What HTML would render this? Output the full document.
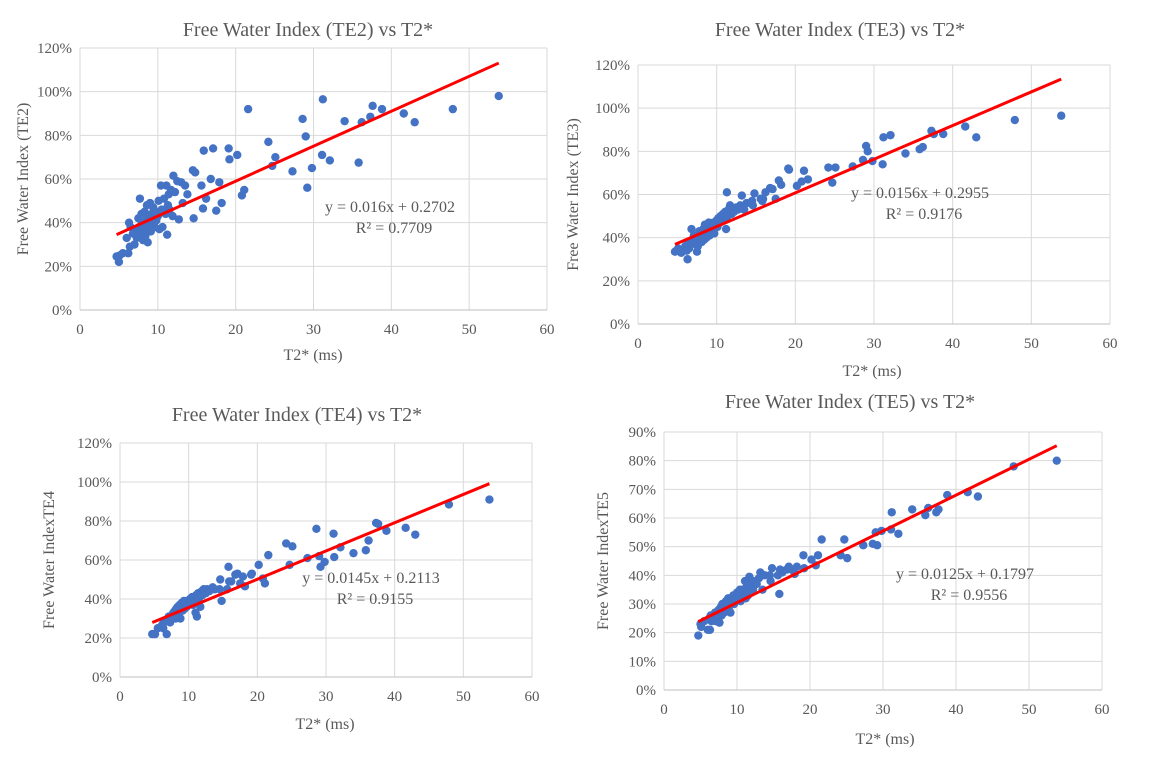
<!DOCTYPE html>
<html><head><meta charset="utf-8"><style>
body{margin:0;background:#fff;width:1158px;height:768px;overflow:hidden;font-family:"Liberation Serif",serif}
svg{position:absolute;left:0;top:0}
</style></head><body>
<svg id="s" width="1158" height="768"></svg>
<script>
const xOut=[53.8,47.9,43,41.6,38.8,37.6,37.3,36.2,35.8,34,32.1,31.2,31.1,29.8,29.2,29,28.6,27.3,25.1,24.7,24.2,21.6,21.1,20.8,20.2,19.2,19.1,18.2,17.9,17.5,17.1,16.8,16.2,15.9,15.8,15.6,14.8,14.6,14.5];
const xClu=[4.7,5.0,5.1,5.5,6.0,6.2,6.3,6.4,6.5,6.8,7.0,7.1,7.3,7.5,7.6,7.7,7.8,7.9,8.0,8.1,8.2,8.3,8.4,8.5,8.6,8.7,8.8,8.9,9.0,9.1,9.2,9.3,9.4,9.5,9.6,9.7,9.8,10.0,10.1,10.2,10.4,10.5,10.6,10.8,11.0,11.1,11.2,11.3,11.4,11.5,11.7,11.9,12.0,12.2,12.5,12.7,13.0,13.2,13.5,13.8];
const te2Out=[98,92,86,90,92,93.5,88.5,86,67.5,86.5,68.5,96.5,71,65,56,79.5,87.5,63.5,70,66,77,92,55,52.5,71,69,74,49,58.5,45.5,74,60,51,73,46.5,57,63,42,64];
const te2Clu=[24.5,22,25,26,33,26,40,29,38,35,30,36,33,42,38,51,35,44,40,32,37,45,34,41,48,31,43,39,49,36,44,40,47,42,38,45,41,43,50,37,57,46,38,51,44,57,34.5,48,53,46,55,43,61.5,54,59,41.5,58.5,49,57,53];
const te3Out=[96.5,94.5,86.5,91.5,88,88,89.5,82,81,79,87.5,86.5,74,75.5,80,82.5,76,73,72.5,65.5,72.5,67,71,66,64,71.5,72,64.5,66.5,58,62.5,63,61,58,57,58,60.5,55,57];
const te3Clu=[33.5,34,35,33,36,34,30,38,35,44,39,41,37,33.5,36,40,43,39,42,38,41,44,39,46,42,40,45,43,47,41,44,46,43,45,47,42,46,48,45,49,47,50,48,51,49,52,44,61,50,53,55,51,53,52,54,53,55,59.5,53,56];
const te4Out=[91,88.5,73,76.5,75,78.5,79,70,65,63.5,66.5,61.5,73.5,59,56.5,62,76,61,67,57.5,68.5,62.5,48,50.5,57.5,53,52.5,46.5,51.5,48,53,52.5,49,49,56.5,45,39,50,45];
const te4Clu=[22,22,22,25,26,27,25,28,29,22,29,31,28,30,32,30,33,31,34,30,35,33,36,31,34,37,30,35,38,34,36,39,35,37,38,36,39,37,38,40,39,41,37,40,33,42,31,41,43,40,36,44,42,45,43,45,44,45,46,45];
const te5Out=[80,78,67.5,69,68,63,62,63.5,61,63,54.5,62,56,55.5,50.5,55,51,50.5,46,52.5,47,52.5,47,43.5,45.5,42.5,47,43,40.5,42,43,42,41,42,33.5,40,42.5,38,40];
const te5Clu=[19,23,22,24,21,25,21,26,24,25,27,24,26,28,23.5,27,29,26,30,28,27,30,29,31,28,30,32,29,31,27,30,32,31,33,30,32,31,34,32,33,35,31,33,35,34,38,32,36,35,33,39.5,36,37,35,38,37,39,41,35,40];
const slopes=[0.016,0.0156,0.0145,0.0125];
const intercepts=[0.2702,0.2955,0.2113,0.1797];
const r2s=["0.7709","0.9176","0.9155","0.9556"];
const yMaxes=[120,120,120,90];
const yStep=[20,20,20,10];
const titles=["Free Water Index (TE2) vs T2*","Free Water Index (TE3) vs T2*","Free Water Index (TE4) vs T2*","Free Water Index (TE5) vs T2*"];
const yTitles=["Free Water Index (TE2)","Free Water Index (TE3)","Free Water IndexTE4","Free Water IndexTE5"];
const series=[[te2Out,te2Clu],[te3Out,te3Clu],[te4Out,te4Clu],[te5Out,te5Clu]];
const frames=[
 {L:80,R:547,T:48,B:310,tx:308,ty:36,ytx:28,xtx:313,xty:360,ex:390,ey:212},
 {L:638,R:1110,T:65,B:324,tx:840,ty:36,ytx:578,xtx:872,xty:376,ex:920,ey:198},
 {L:120,R:532,T:443,B:677,tx:297,ty:421,ytx:54,xtx:325,xty:729,ex:371,ey:583},
 {L:664,R:1102,T:432,B:690,tx:850,ty:408,ytx:608,xtx:885,xty:744,ex:965,ey:579}];
const NS="http://www.w3.org/2000/svg",svg=document.getElementById('s');
function mk(t,a,p){const e=document.createElementNS(NS,t);for(const k in a)e.setAttribute(k,a[k]);(p||svg).appendChild(e);return e;}
frames.forEach((f,i)=>{
 const g=mk('g',{});
 
 
 const xs=v=>f.L+(f.R-f.L)*v/60, ys=v=>f.B-(f.B-f.T)*v/yMaxes[i];
 for(let v=0;v<=yMaxes[i];v+=yStep[i]){
  mk('line',{x1:f.L,x2:f.R,y1:ys(v),y2:ys(v),stroke:'#d9d9d9','stroke-width':1},g);
  const t=mk('text',{x:f.L-8,y:ys(v)+5,'text-anchor':'end','font-size':15,fill:'#595959'},g);t.textContent=v+'%';
  
  
 }
 for(let v=0;v<=60;v+=10){
  mk('line',{x1:xs(v),x2:xs(v),y1:f.T,y2:f.B,stroke:'#d9d9d9','stroke-width':1},g);
  const t=mk('text',{x:xs(v),y:f.B+24,'text-anchor':'middle','font-size':15,fill:'#595959'},g);t.textContent=v;
  
  
 }
 mk('line',{x1:f.L,x2:f.R,y1:f.B,y2:f.B,stroke:'#bfbfbf','stroke-width':1},g);
 let t=mk('text',{x:f.tx,y:f.ty,'text-anchor':'middle','font-size':20,fill:'#595959'},g);t.textContent=titles[i];
 
 
 const cy=(f.T+f.B)/2;
 t=mk('text',{x:f.ytx,y:cy,'text-anchor':'middle','font-size':16,fill:'#595959',transform:`rotate(-90 ${f.ytx} ${cy})`},g);t.textContent=yTitles[i];
 
 
 t=mk('text',{x:f.xtx,y:f.xty,'text-anchor':'middle','font-size':16,fill:'#595959'},g);t.textContent='T2* (ms)';
 
 
 const [o,c]=series[i];
 [[xOut,o],[xClu,c]].forEach(([xa,ya])=>xa.forEach((x,j)=>{
  const d=mk('circle',{cx:xs(x),cy:ys(ya[j]),r:4.2,fill:'#4472C4'},g);
  
  
 }));
 const x1=4.7,x2=53.8;
 const ln=mk('line',{x1:xs(x1),y1:ys(100*(slopes[i]*x1+intercepts[i])),x2:xs(x2),y2:ys(100*(slopes[i]*x2+intercepts[i])),stroke:'#ff0000','stroke-width':3},g);
 
 
 t=mk('text',{x:f.ex,y:f.ey,'text-anchor':'middle','font-size':16,fill:'#595959'},g);t.textContent=`y = ${slopes[i]}x + ${intercepts[i]}`;
 
 
 t=mk('text',{x:f.ex+4,y:f.ey+21,'text-anchor':'middle','font-size':16,fill:'#595959'},g);t.textContent=`R² = ${r2s[i]}`;
 
 
});
</script>
</body></html>
